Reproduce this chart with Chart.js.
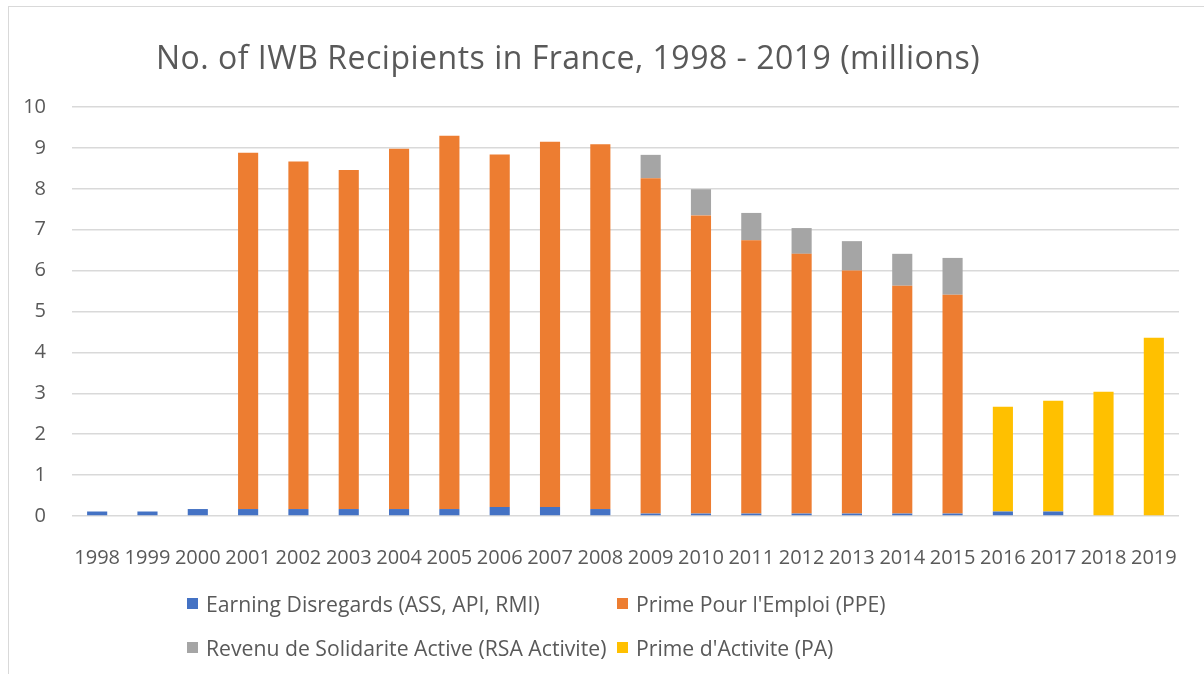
<!DOCTYPE html>
<html>
<head>
<meta charset="utf-8">
<script src="https://cdn.jsdelivr.net/npm/chart.js@4"></script>
<style>
    html, body { margin: 0; padding: 0; background: #fff; }
    #wrap { position: relative; width: 1204px; height: 674px; overflow: hidden; font-family: "Open Sans", Lato, sans-serif; }
    #frame { position: absolute; left: 8px; top: 6px; width: 1300px; height: 800px; border-left: 1.5px solid #d9d9d9; border-top: 1.5px solid #d9d9d9; }
    #chart { position: absolute; left: 0; top: 0; }
    #title { position: absolute; left: 0; top: 35px; width: 1136px; text-align: center; font-size: 32px; letter-spacing: 0.5px; color: #595959; white-space: nowrap; }
    #legend { position: absolute; left: 187px; top: 590px; display: grid; grid-template-columns: 430px auto; row-gap: 18px; }
    .item { display: flex; align-items: center; font-size: 21.2px; color: #595959; height: 26px; white-space: nowrap; }
    .box { width: 11px; height: 11px; margin-right: 8px; }
</style>
</head>
<body>
<div id="wrap">
    <div id="frame"></div>
    <canvas id="chart" width="1204" height="674"></canvas>
    <div id="title">No. of IWB Recipients in France, 1998 - 2019 (millions)</div>
    <div id="legend"></div>
</div>
<script>
// values (millions)
const years = ['1998', '1999', '2000', '2001', '2002', '2003', '2004', '2005', '2006', '2007', '2008',
    '2009', '2010', '2011', '2012', '2013', '2014', '2015', '2016', '2017', '2018', '2019'];

const earningDisregards = [0.11, 0.11, 0.17, 0.17, 0.17, 0.17, 0.17, 0.17, 0.22, 0.22, 0.17,
    0.06, 0.06, 0.06, 0.06, 0.06, 0.06, 0.06, 0.11, 0.11, 0, 0];
const primePourEmploi = [0, 0, 0, 8.71, 8.50, 8.29, 8.81, 9.13, 8.62, 8.93, 8.92,
    8.20, 7.29, 6.68, 6.35, 5.94, 5.57, 5.35, 0, 0, 0, 0];
const rsaActivite = [0, 0, 0, 0, 0, 0, 0, 0, 0, 0, 0,
    0.57, 0.64, 0.67, 0.63, 0.72, 0.78, 0.90, 0, 0, 0, 0];
const primeActivite = [0, 0, 0, 0, 0, 0, 0, 0, 0, 0, 0,
    0, 0, 0, 0, 0, 0, 0, 2.56, 2.71, 3.04, 4.36];

const yTicks = [0, 1, 2, 3, 4, 5, 6, 7, 8, 9, 10];

const textColor = '#595959';
const gridColor = '#d9d9d9';
const tickFont = { family: 'Open Sans', size: 20 };

function makeSet(label, data, color) {
    return {
        label: label,
        data: data,
        backgroundColor: color,
        borderWidth: 0,
        barPercentage: 0.4,
        categoryPercentage: 1
    };
}

const chart = new Chart(document.getElementById('chart').getContext('2d'), {
    type: 'bar',
    data: {
        labels: years,
        datasets: [
            makeSet('Earning Disregards (ASS, API, RMI)', earningDisregards, '#4472C4'),
            makeSet("Prime Pour l'Emploi (PPE)", primePourEmploi, '#ED7D31'),
            makeSet('Revenu de Solidarite Active (RSA Activite)', rsaActivite, '#A5A5A5'),
            makeSet("Prime d'Activite (PA)", primeActivite, '#FFC000')
        ]
    },
    options: {
        responsive: false,
        animation: false,
        layout: { padding: { top: 107, left: 20, right: 25, bottom: 82 } },
        plugins: {
            legend: { display: false },
            title: { display: false },
            tooltip: { enabled: false }
        },
        scales: {
            x: {
                stacked: true,
                grid: { display: false },
                border: { display: false },
                ticks: {
                    color: textColor,
                    font: tickFont,
                    autoSkip: false,
                    maxRotation: 0,
                    padding: 22
                }
            },
            y: {
                stacked: true,
                min: 0,
                max: 10,
                afterBuildTicks: scale => { scale.ticks = yTicks.map(v => ({ value: v })); },
                afterFit: scale => { scale.width = 52; },
                grid: { color: gridColor, lineWidth: 1.5, drawTicks: false },
                border: { display: false },
                ticks: {
                    color: textColor,
                    font: tickFont,
                    padding: 26
                }
            }
        }
    }
});

// two-column legend like the original
const legendEl = document.getElementById('legend');
chart.data.datasets.forEach(ds => {
    const item = document.createElement('div');
    item.className = 'item';
    item.innerHTML = `<span class="box" style="background:${ds.backgroundColor}"></span>${ds.label}`;
    legendEl.appendChild(item);
});
</script>
</body>
</html>
